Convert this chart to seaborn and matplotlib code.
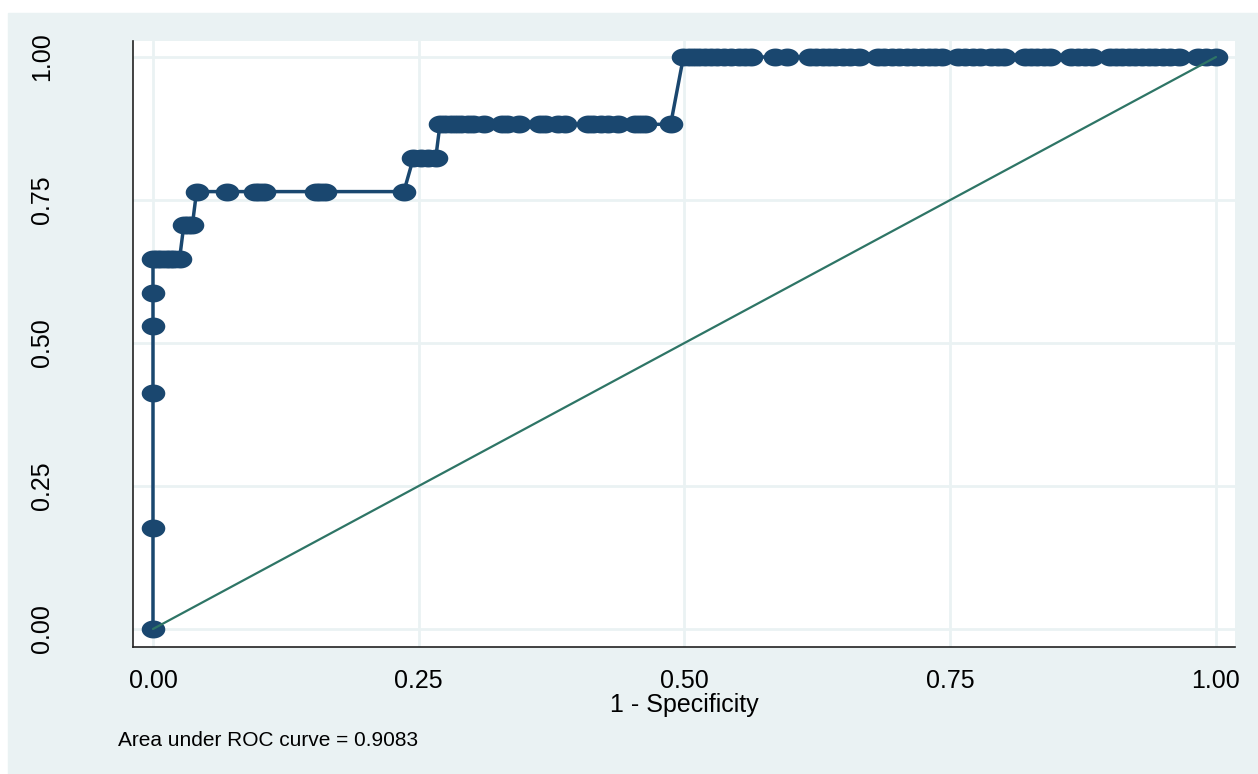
import numpy as np
import pandas as pd
import matplotlib
matplotlib.use("Agg")
import matplotlib.pyplot as plt
from matplotlib.path import Path
from matplotlib.patches import Rectangle
import seaborn as sns

# sensitivity levels (k/17) and the 1-specificity points seen at each level
sens_levels = [0.0, 3/17, 7/17, 9/17, 10/17, 11/17, 12/17, 13/17, 14/17, 15/17, 1.0]
fpr_at_level = [
    [0.0],
    [0.0],
    [0.0],
    [0.0],
    [0.0],
    [0.0, 0.004, 0.008, 0.012, 0.016, 0.020, 0.025],
    [0.029, 0.033, 0.037],
    [0.041, 0.070, 0.096, 0.100, 0.104, 0.153, 0.157, 0.162, 0.236],
    [0.245, 0.252, 0.259, 0.266],
    [0.270, 0.275, 0.280, 0.285, 0.290, 0.296, 0.301, 0.311,
     0.328, 0.333, 0.344,
     0.364, 0.369, 0.381, 0.388,
     0.409, 0.414, 0.421, 0.428, 0.437,
     0.453, 0.458, 0.463,
     0.487],
    [0.499, 0.504, 0.509, 0.514, 0.519, 0.525, 0.531, 0.537, 0.544, 0.551, 0.557, 0.563,
     0.585, 0.596,
     0.618, 0.624, 0.630, 0.636, 0.642, 0.649, 0.656, 0.664,
     0.682, 0.688, 0.695, 0.702, 0.709, 0.716, 0.723, 0.730, 0.736, 0.742,
     0.757, 0.764, 0.771, 0.778, 0.788, 0.795, 0.801,
     0.820, 0.826, 0.832, 0.838, 0.844,
     0.864, 0.870, 0.877, 0.883,
     0.900, 0.906, 0.912, 0.918, 0.924, 0.930, 0.937, 0.943, 0.950, 0.957, 0.965,
     0.983, 0.991, 1.0],
]
ticks = [0.0, 0.25, 0.5, 0.75, 1.0]
tick_labels = ["0.00", "0.25", "0.50", "0.75", "1.00"]
auc = 0.9083

rows = []
for s, fl in zip(sens_levels, fpr_at_level):
    for f in fl:
        rows.append((f, s))
roc = pd.DataFrame(rows, columns=["fpr", "sens"])
ref = pd.DataFrame({"fpr": [0.0, 1.0], "sens": [0.0, 1.0]})

sns.set_style("white")
plt.rcParams["font.family"] = ["Liberation Sans", "DejaVu Sans"]
plt.rcParams["text.color"] = "black"
plt.rcParams["axes.labelcolor"] = "black"
plt.rcParams["xtick.color"] = "black"
plt.rcParams["ytick.color"] = "black"

bg = "#EAF2F3"
navy = "#1A476F"
green = "#2E7566"

# stata draws the markers slightly squashed
t = np.linspace(0, 2 * np.pi, 40)
ellipse = Path(np.column_stack([np.cos(t), 0.76 * np.sin(t)]), closed=True)

fig = plt.figure(figsize=(12.58, 7.74), dpi=100)
fig.patch.set_facecolor("white")
fig.patches.append(Rectangle((8 / 1258, 0), 1 - 8 / 1258, 1 - 13 / 774,
                             transform=fig.transFigure, color=bg, zorder=-10))
ax = fig.add_axes([133 / 1258, 127 / 774, 1102 / 1258, 606 / 774])
ax.set_facecolor("white")

sns.lineplot(data=roc, x="fpr", y="sens", sort=False, estimator=None, ax=ax,
             color=navy, linewidth=2.5, marker=ellipse, markersize=17,
             markeredgewidth=0, markerfacecolor=navy, zorder=3)
sns.lineplot(data=ref, x="fpr", y="sens", sort=False, estimator=None, ax=ax,
             color=green, linewidth=1.6, zorder=4)

ax.set_xlim(-0.0188, 1.0179)
ax.set_ylim(-0.0315, 1.028)
ax.set_xticks(ticks)
ax.set_xticklabels(tick_labels)
ax.set_yticks(ticks)
ax.set_yticklabels(tick_labels, rotation=90, va="center")
ax.grid(True, color=bg, linewidth=2)
ax.set_axisbelow(True)
for side in ["top", "right"]:
    ax.spines[side].set_visible(False)
for side in ["left", "bottom"]:
    ax.spines[side].set_color("#222222")
    ax.spines[side].set_linewidth(1.2)
ax.tick_params(axis="both", direction="out", length=9, width=1, color="#222222",
               labelsize=18, pad=7)
ax.tick_params(axis="y", pad=48)
ax.set_xlabel("1 - Specificity", fontsize=18, labelpad=0)
ax.set_ylabel("")

fig.text(118 / 1258, 1 - 740 / 774, f"Area under ROC curve = {auc:.4f}",
         fontsize=15, va="center", ha="left")

fig.savefig("out.png", dpi=100, facecolor=fig.get_facecolor())
